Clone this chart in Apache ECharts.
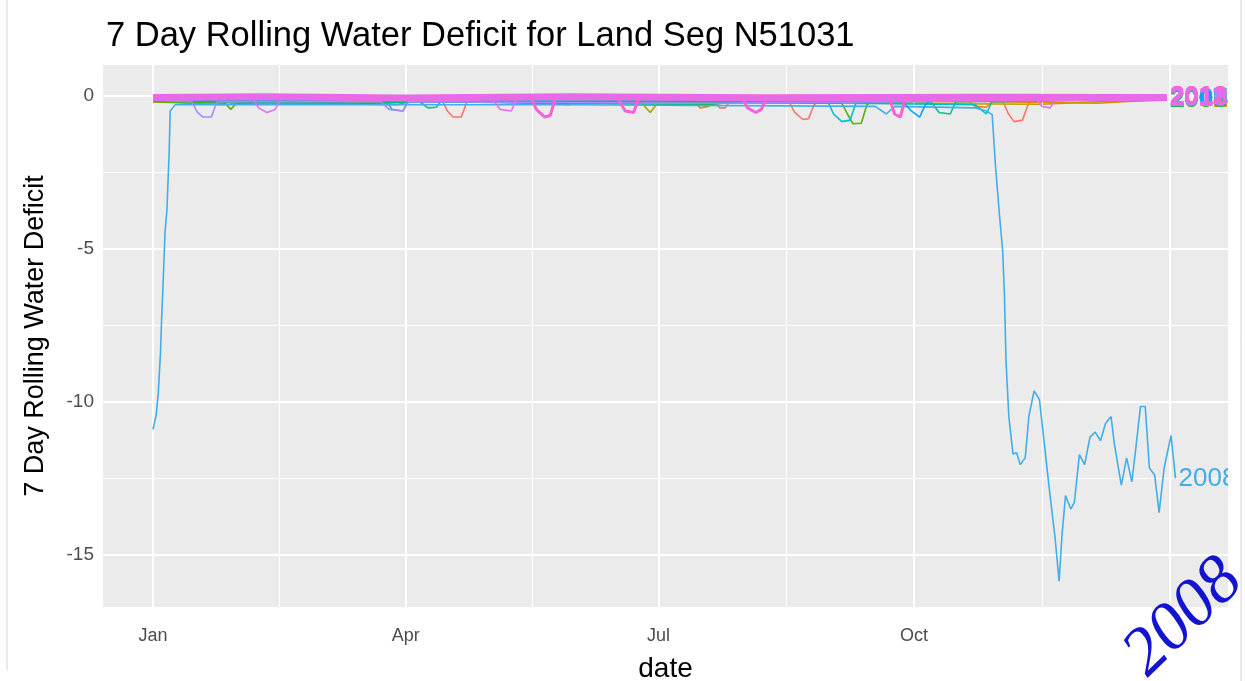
<!DOCTYPE html>
<html>
<head>
<meta charset="utf-8">
<script src="https://cdn.jsdelivr.net/npm/echarts@6/dist/echarts.min.js"></script>
<style>
  html, body { margin: 0; padding: 0; background: #fff; }
  #main { width: 1245px; height: 681px; }
</style>
</head>
<body>
<div id="main"></div>
<script>
// day of year (0 = Jan 1) vs 7 day rolling deficit, one array per year
var years = ['2000', '2001', '2002', '2003', '2004', '2005', '2006',
             '2007', '2008', '2009', '2010', '2011', '2012', '2013'];
var yearColors = ['#F8766D', '#E38900', '#C49A00', '#99A800', '#53B400', '#00BC56', '#00C094',
                  '#00BFC4', '#41AEE8', '#06A4FF', '#A58AFF', '#DF70F8', '#FB61D7', '#E86BE6'];

var d2000 = [[0,-0.12],[104,-0.15],[106,-0.5],[108,-0.7],[111,-0.7],[113,-0.2],[202,-0.15],[204,-0.4],[206,-0.4],[208,-0.15],
             [229,-0.2],[231,-0.55],[234,-0.78],[236,-0.75],[238,-0.3],[240,-0.15],[306,-0.2],[308,-0.6],[310,-0.85],[313,-0.8],
             [315,-0.3],[317,-0.12],[365,-0.1]];
var d2001 = [[0,-0.2],[60,-0.22],[195,-0.2],[197,-0.4],[200,-0.35],[202,-0.18],[294,-0.2],[296,-0.35],[300,-0.38],[302,-0.2],
             [340,-0.25],[365,-0.12]];
var d2002 = [[0,-0.2],[25,-0.3],[30,-0.25],[120,-0.2],[150,-0.3],[155,-0.2],[320,-0.28],[340,-0.2],[365,-0.15]];
var d2003 = [[0,-0.18],[88,-0.3],[92,-0.2],[176,-0.25],[179,-0.55],[182,-0.2],[365,-0.1]];
var d2004 = [[0,-0.2],[26,-0.25],[28,-0.45],[30,-0.25],[60,-0.2],[248,-0.25],[250,-0.6],[252,-0.92],[255,-0.9],[257,-0.3],
             [259,-0.18],[365,-0.12]];
var d2005 = [[0,-0.18],[80,-0.25],[100,-0.2],[200,-0.3],[210,-0.2],[365,-0.15]];
var d2006 = [[0,-0.15],[96,-0.2],[99,-0.4],[102,-0.38],[104,-0.15],[280,-0.2],[283,-0.55],[287,-0.6],[289,-0.2],[365,-0.1]];
var d2007 = [[0,-0.12],[84,-0.15],[86,-0.45],[90,-0.5],[92,-0.15],[243,-0.2],[245,-0.6],[248,-0.85],[251,-0.8],[253,-0.25],
             [296,-0.3],[300,-0.6],[302,-0.2],[365,-0.1]];
var d2008 = [[0,-10.9],[1.2,-10.4],[1.9,-9.7],[2.7,-8.4],[3.1,-7.3],[3.7,-6.0],[4.3,-4.5],[5,-3.75],[5.8,-1.9],[6.2,-0.5],
             [8,-0.3],[150,-0.3],[260,-0.35],[264,-0.6],[267,-0.35],[296,-0.4],[300,-0.5],[302.1,-0.62],[303.3,-2.3],[304.6,-3.76],
             [305.9,-5.1],[306.5,-6.45],[307.1,-8.69],[308.1,-10.48],[309.6,-11.7],[310.9,-11.66],[312.2,-12.05],[314,-11.83],
             [315.3,-10.48],[317.2,-9.64],[319.1,-9.92],[320.9,-11.38],[322.8,-12.95],[324.7,-14.4],[326.2,-15.86],[327.2,-14.4],
             [328.5,-13.06],[330.4,-13.5],[331.7,-13.28],[333.5,-11.72],[335.4,-12.05],[337.3,-11.15],[339.2,-10.99],[341.1,-11.27],
             [342.9,-10.71],[344.9,-10.48],[346.1,-11.38],[348.6,-12.72],[350.5,-11.83],[352.4,-12.61],[353.7,-11.6],[355.5,-10.15],
             [357.2,-10.15],[358.7,-12.16],[360.6,-12.39],[362.2,-13.62],[364,-12.16],[366.5,-11.1],[368.1,-12.5]];
var d2009 = [[0,-0.15],[120,-0.2],[270,-0.2],[273,-0.5],[276,-0.7],[278,-0.3],[280,-0.15],[365,-0.1]];
var d2010 = [[0,-0.15],[14,-0.2],[16,-0.55],[18,-0.7],[21,-0.7],[23,-0.2],[82,-0.2],[85,-0.45],[90,-0.5],[92,-0.2],
             [200,-0.25],[365,-0.12]];
var d2011 = [[0,-0.05],[36,-0.1],[38,-0.4],[41,-0.55],[44,-0.45],[46,-0.1],[122,-0.1],[125,-0.45],[129,-0.5],[131,-0.1],
             [318,-0.1],[320,-0.35],[323,-0.4],[325,-0.1],[365,-0.05]];
var d2012 = [[0,-0.03],[136,-0.05],[138,-0.45],[141,-0.7],[143,-0.65],[145,-0.05],[167,-0.05],[170,-0.5],[173,-0.55],[175,-0.05],
             [212,-0.05],[214,-0.4],[217,-0.55],[219,-0.45],[221,-0.05],[265,-0.05],[267,-0.6],[269,-0.7],[271,-0.05],[365,-0.03]];
var d2013 = [[0,-0.06],[40,-0.04],[90,-0.08],[150,-0.04],[220,-0.07],[300,-0.05],[365,-0.06]];

var allData = [d2000, d2001, d2002, d2003, d2004, d2005, d2006, d2007, d2008, d2009, d2010, d2011, d2012, d2013];

var monthTicks = [0, 91, 182, 274];
var monthLabels = ['Jan', 'Apr', 'Jul', 'Oct'];
var majorX = [0, 91, 182, 274, 366];
var minorX = [45.5, 136.5, 228, 320];
var yTicks = [0, -5, -10, -15];
var minorY = [-2.5, -7.5, -12.5];

var chart = echarts.init(document.getElementById('main'));

var gridLines = [];
majorX.forEach(function (v) { gridLines.push({ xAxis: v, lineStyle: { width: 2 } }); });
minorX.forEach(function (v) { gridLines.push({ xAxis: v, lineStyle: { width: 1 } }); });
yTicks.forEach(function (v) { gridLines.push({ yAxis: v, lineStyle: { width: 2 } }); });
minorY.forEach(function (v) { gridLines.push({ yAxis: v, lineStyle: { width: 1 } }); });

var series = [{
    type: 'line',
    data: [],
    z: 1,
    markLine: {
        silent: true,
        symbol: 'none',
        label: { show: false },
        lineStyle: { color: '#fff', type: 'solid' },
        data: gridLines
    }
}];

years.forEach(function (yr, i) {
    var is08 = yr === '2008';
    var w = 1.6;
    if (i === 12) w = 3;
    if (i === 13) w = 7;
    series.push({
        name: yr,
        type: 'line',
        data: allData[i],
        showSymbol: false,
        symbol: 'none',
        z: 2 + i,
        lineStyle: { color: yearColors[i], width: w },
        itemStyle: { color: yearColors[i] },
        endLabel: {
            show: true,
            formatter: '{a}',
            color: yearColors[i],
            fontSize: 26,
            fontWeight: is08 ? 'normal' : 'bold',
            fontFamily: 'Liberation Sans',
            distance: 3
        }
    });
});

var option = {
    animation: false,
    backgroundColor: '#fff',
    title: {
        text: '7 Day Rolling Water Deficit for Land Seg N51031',
        left: 101,
        top: 14,
        textStyle: { fontFamily: 'Liberation Sans', fontSize: 34.5, fontWeight: 'normal', color: '#000' }
    },
    grid: {
        left: 103, right: 17, top: 65, bottom: 74,
        outerBoundsMode: 'none',
        containLabel: false,
        show: true, backgroundColor: '#EBEBEB', borderWidth: 0
    },
    xAxis: {
        type: 'value',
        min: -18, max: 387,
        name: 'date',
        nameLocation: 'middle',
        nameGap: 48,
        nameTextStyle: { fontFamily: 'Liberation Sans', fontSize: 28, color: '#000' },
        axisLine: { show: false },
        splitLine: { show: false },
        axisTick: { show: true, length: 5, customValues: monthTicks, lineStyle: { color: '#333' } },
        axisLabel: {
            customValues: monthTicks,
            color: '#4D4D4D', fontSize: 18, fontFamily: 'Liberation Sans', margin: 20,
            formatter: function (v) { var k = monthTicks.indexOf(v); return k >= 0 ? monthLabels[k] : ''; }
        }
    },
    yAxis: {
        type: 'value',
        min: -16.7, max: 1.0,
        name: '7 Day Rolling Water Deficit',
        nameLocation: 'middle',
        nameGap: 54,
        nameTextStyle: { fontFamily: 'Liberation Sans', fontSize: 27, color: '#000' },
        axisLine: { show: false },
        splitLine: { show: false },
        axisTick: { show: true, length: 5, customValues: yTicks, lineStyle: { color: '#333' } },
        axisLabel: {
            customValues: yTicks,
            color: '#4D4D4D', fontSize: 19, fontFamily: 'Liberation Sans', margin: 9
        }
    },
    graphic: [
        // ggplot clips the year labels at the panel edge
        { type: 'rect', shape: { x: 1228, y: 60, width: 12, height: 560 }, style: { fill: '#fff' }, z: 50 },
        { type: 'line', shape: { x1: 7, y1: 0, x2: 7, y2: 670 }, style: { stroke: '#D6D6D6', lineWidth: 1 }, z: 51 },
        { type: 'line', shape: { x1: 1241, y1: 0, x2: 1241, y2: 681 }, style: { stroke: '#D6D6D6', lineWidth: 1 }, z: 51 },
        {
            type: 'text',
            x: 1184, y: 618,
            rotation: 44 * Math.PI / 180,
            z: 100,
            style: {
                text: '2008',
                fill: '#1414D0',
                font: 'italic 68px "Liberation Serif"',
                align: 'center',
                verticalAlign: 'middle'
            }
        }
    ],
    series: series
};
chart.setOption(option);
</script>
</body>
</html>
